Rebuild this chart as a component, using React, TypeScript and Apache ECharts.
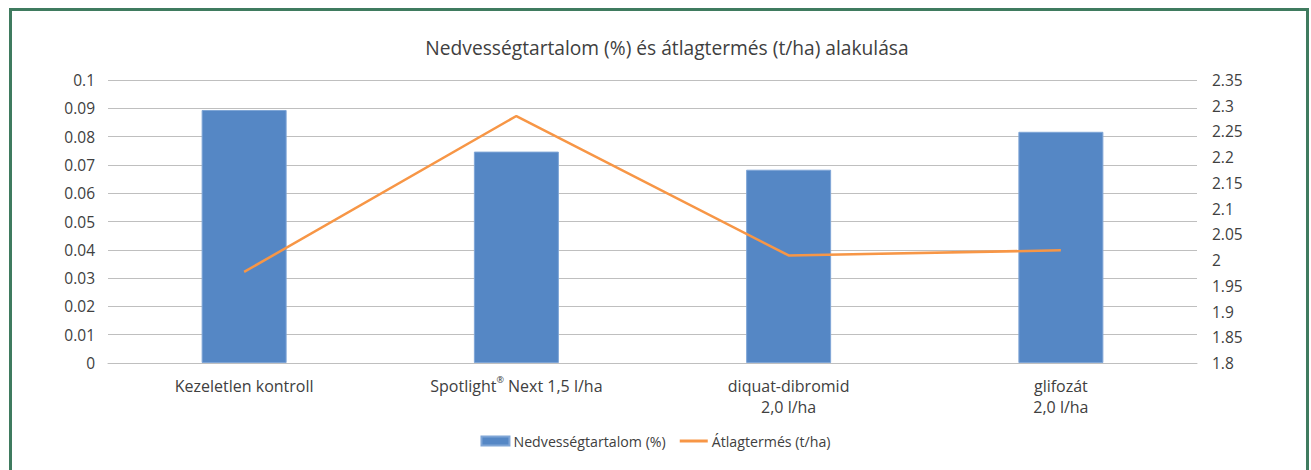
import React, { useEffect, useRef } from "react";
import * as echarts from "echarts";

const titleText = "Nedvességtartalom (%) és átlagtermés (t/ha) alakulása";
const categories = [
  "Kezeletlen kontroll",
  "Spotlight® Next 1,5 l/ha",
  "diquat-dibromid\n2,0 l/ha",
  "glifozát\n2,0 l/ha",
];
const moistureName = "Nedvességtartalom (%)";
const moisture = [0.0894, 0.0747, 0.0683, 0.0817];
const yieldName = "Átlagtermés (t/ha)";
const yieldValues = [1.977, 2.28, 2.009, 2.019];

const FONT = "Open Sans";
const TEXT = "#404040";

export default function App() {
  const ref = useRef<HTMLDivElement>(null);
  useEffect(() => {
    if (!ref.current) return;
    const chart = echarts.init(ref.current, undefined, { renderer: "svg" });
    chart.setOption({
      animation: false,
      backgroundColor: "#ffffff",
      textStyle: { fontFamily: FONT, color: TEXT },
      title: {
        text: titleText,
        left: 662,
        top: 33,
        textAlign: "center",
        textStyle: { fontFamily: FONT, fontSize: 19.2, fontWeight: "normal", color: TEXT },
      },
      graphic: [
        {
          type: "rect",
          shape: { x: 10.5, y: 9.5, width: 1297, height: 490 },
          style: { fill: "none", stroke: "#3f7b5f", lineWidth: 3 },
          silent: true,
        },
      ],
      legend: {
        bottom: 17,
        left: "center",
        itemGap: 14,
        itemWidth: 28,
        itemHeight: 9,
        textStyle: { fontFamily: FONT, fontSize: 14.2, color: TEXT, padding: [0, 0, 0, -1] },
        data: [
          { name: moistureName, icon: "rect" },
          { name: yieldName, icon: "path://M0,0 L28,0 L28,3 L0,3 Z" },
        ],
      },
      grid: { left: 108, right: 114, top: 80, bottom: 107 },
      xAxis: {
        type: "category",
        data: categories,
        axisLine: { lineStyle: { color: "#bfbfbf", width: 1 } },
        axisTick: { show: false },
        axisLabel: {
          interval: 0,
          margin: 12,
          fontFamily: FONT,
          fontSize: 16,
          color: TEXT,
          lineHeight: 21,
          formatter: (v: string) => v.replace("®", "{sup|®}"),
          rich: {
            sup: { fontSize: 9, verticalAlign: "top", padding: [0, 0, 7, 0], color: TEXT, fontFamily: FONT },
          },
        },
      },
      yAxis: [
        {
          type: "value",
          min: 0,
          max: 0.1,
          interval: 0.01,
          axisLine: { show: false },
          axisTick: { show: false },
          splitLine: { lineStyle: { color: "#bfbfbf", width: 1 } },
          axisLabel: { margin: 13, fontFamily: FONT, fontSize: 15.5, color: TEXT },
        },
        {
          type: "value",
          min: 1.8,
          max: 2.35,
          interval: 0.05,
          axisLine: { show: false },
          axisTick: { show: false },
          splitLine: { show: false },
          axisLabel: { margin: 15, fontFamily: FONT, fontSize: 15.5, color: TEXT },
        },
      ],
      series: [
        {
          name: moistureName,
          type: "bar",
          data: moisture,
          yAxisIndex: 0,
          barWidth: 85,
          itemStyle: { color: "#5587c5", borderColor: "#7fa5d6", borderWidth: 1 },
        },
        {
          name: yieldName,
          type: "line",
          data: yieldValues,
          yAxisIndex: 1,
          symbol: "none",
          lineStyle: { color: "#f79646", width: 2.5 },
          itemStyle: { color: "#f79646" },
        },
      ],
    });
    return () => chart.dispose();
  }, []);
  return (
    <div
      ref={ref}
      style={{ position: "fixed", left: 0, top: 0, width: 1311, height: 470 }}
    />
  );
}
